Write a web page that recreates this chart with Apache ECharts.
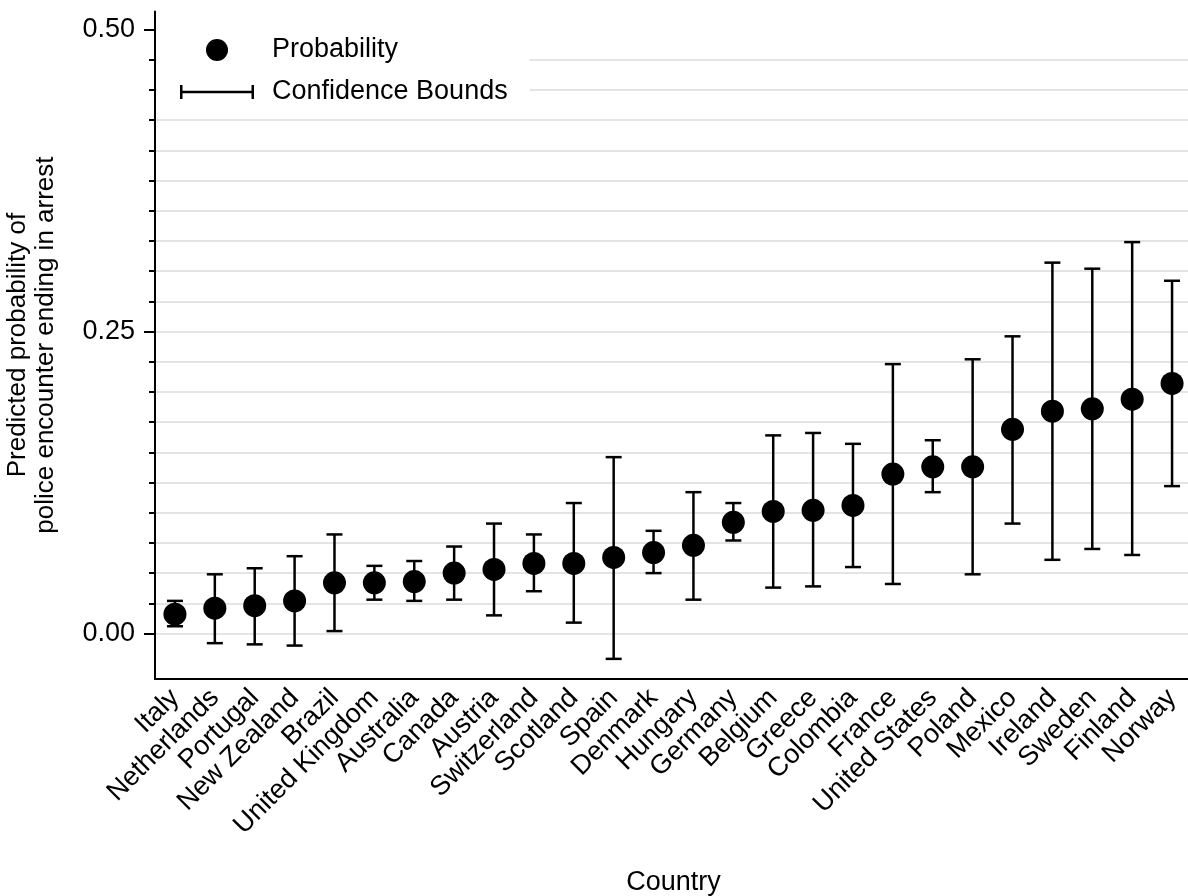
<!DOCTYPE html>
<html>
<head>
<meta charset="utf-8">
<title>Predicted probability of arrest by country</title>
<script src="https://cdn.jsdelivr.net/npm/echarts@6.0.0/dist/echarts.min.js"></script>
<style>
  html, body { margin: 0; padding: 0; background: #fff; }
  #chart { width: 1188px; height: 896px; }
</style>
</head>
<body>
<div id="chart"></div>
<script>
// data
var countries = ['Italy', 'Netherlands', 'Portugal', 'New Zealand', 'Brazil', 'United Kingdom',
  'Australia', 'Canada', 'Austria', 'Switzerland', 'Scotland', 'Spain', 'Denmark', 'Hungary',
  'Germany', 'Belgium', 'Greece', 'Colombia', 'France', 'United States', 'Poland', 'Mexico',
  'Ireland', 'Sweden', 'Finland', 'Norway'];
var probability = [0.016, 0.021, 0.023, 0.027, 0.042, 0.042, 0.043, 0.050, 0.053, 0.058, 0.058,
  0.063, 0.067, 0.073, 0.092, 0.101, 0.102, 0.106, 0.132, 0.138, 0.138, 0.169, 0.184, 0.186,
  0.194, 0.207];
var upperBound = [0.027, 0.049, 0.054, 0.064, 0.082, 0.056, 0.060, 0.072, 0.091, 0.082, 0.108,
  0.146, 0.085, 0.117, 0.108, 0.164, 0.166, 0.157, 0.223, 0.160, 0.227, 0.246, 0.307, 0.302,
  0.324, 0.292];
var lowerBound = [0.006, -0.008, -0.009, -0.010, 0.002, 0.028, 0.027, 0.028, 0.015, 0.035, 0.009,
  -0.021, 0.050, 0.028, 0.077, 0.038, 0.039, 0.055, 0.041, 0.117, 0.049, 0.091, 0.061, 0.070,
  0.065, 0.122];
var yTicks = [0, 0.25, 0.5];

// layout: pixels per unit and pixel row of y = 0
var pxPerUnit = 1208, zeroRow = 633.5, H = 896;
var yMin = -0.0375, yMax = 0.515;
var font = 'Liberation Sans, Arial, sans-serif';
var fs = 27;

var chart = echarts.init(document.getElementById('chart'));

function renderErrorBar(params, api) {
  var i = api.value(0);
  var lo = api.coord([i, api.value(1)]);
  var hi = api.coord([i, api.value(2)]);
  var half = 8;
  var style = { stroke: '#000', lineWidth: 2.5 };
  return {
    type: 'group',
    children: [
      { type: 'line', shape: { x1: lo[0], y1: lo[1], x2: hi[0], y2: hi[1] }, style: style },
      { type: 'line', shape: { x1: hi[0] - half, y1: hi[1], x2: hi[0] + half, y2: hi[1] }, style: style },
      { type: 'line', shape: { x1: lo[0] - half, y1: lo[1], x2: lo[0] + half, y2: lo[1] }, style: style }
    ]
  };
}

var barData = countries.map(function (c, i) { return [i, lowerBound[i], upperBound[i]]; });

var option = {
  animation: false,
  backgroundColor: '#fff',
  color: ['#000'],
  textStyle: { fontFamily: font, color: '#000' },
  grid: [
    // data grid
    { left: 155, right: -4, top: zeroRow - yMax * pxPerUnit, bottom: H - (zeroRow - yMin * pxPerUnit), outerBoundsMode: 'none' },
    // grid for ticks / gridlines from 0 to 0.5
    { left: 155, right: -4, top: zeroRow - 0.5 * pxPerUnit, bottom: H - zeroRow, outerBoundsMode: 'none' }
  ],
  legend: {
    selectedMode: false,
    orient: 'vertical',
    left: 157,
    top: 13,
    padding: [22, 22, 4, 23],
    backgroundColor: '#fff',
    itemWidth: 74,
    itemHeight: 22,
    itemGap: 12,
    textStyle: { fontSize: fs, lineHeight: 30, color: '#000', fontFamily: font, padding: [0, 0, 0, 13] },
    data: [
      { name: 'Probability', icon: 'circle' },
      { name: 'Confidence Bounds', icon: 'path://M0,0H2.5V14H0Z M2.5,5.75H71.5V8.25H2.5Z M71.5,0H74V14H71.5Z' }
    ]
  },
  xAxis: [
    {
      gridIndex: 0,
      type: 'category',
      data: countries,
      boundaryGap: true,
      axisLine: { onZero: false, lineStyle: { color: '#000', width: 2 } },
      axisTick: { alignWithLabel: true, length: 12, lineStyle: { color: '#000', width: 2 } },
      axisLabel: { rotate: 45, interval: 0, fontSize: fs, color: '#000', margin: 15 },
      splitLine: { show: false },
      name: 'Country',
      nameLocation: 'middle',
      nameGap: 190,
      nameTextStyle: { fontSize: fs, color: '#000' }
    },
    { gridIndex: 1, type: 'value', min: 0, max: 1, show: false }
  ],
  yAxis: [
    {
      gridIndex: 0,
      type: 'value',
      z: 10,
      min: yMin,
      max: yMax,
      axisLine: { show: true, lineStyle: { color: '#000', width: 2 } },
      axisTick: { show: false },
      axisLabel: { show: false },
      splitLine: { show: false },
      name: 'Predicted probability of\npolice encounter ending in arrest',
      nameLocation: 'middle',
      nameGap: 95,
      nameTextStyle: { fontSize: 26, lineHeight: 28, color: '#000' }
    },
    {
      gridIndex: 1,
      type: 'value',
      min: yTicks[0],
      max: yTicks[yTicks.length - 1],
      interval: yTicks[1] - yTicks[0],
      axisLine: { show: false },
      axisTick: { show: true, length: 11, lineStyle: { color: '#000', width: 2 } },
      minorTick: { show: true, splitNumber: 10, length: 6, lineStyle: { color: '#000', width: 2 } },
      splitLine: { show: true, showMaxLine: false, lineStyle: { color: '#dcdcdc', width: 1.5 } },
      minorSplitLine: { show: true, lineStyle: { color: '#dcdcdc', width: 1.5 } },
      axisLabel: {
        margin: 20, fontSize: fs, color: '#000',
        formatter: function (v) { return v.toFixed(2); }
      }
    }
  ],
  series: [
    {
      name: 'Confidence Bounds',
      type: 'custom',
      xAxisIndex: 0,
      yAxisIndex: 0,
      renderItem: renderErrorBar,
      itemStyle: { color: '#000' },
      encode: { x: 0, y: [1, 2] },
      data: barData,
      z: 2
    },
    {
      name: 'Probability',
      type: 'scatter',
      xAxisIndex: 0,
      yAxisIndex: 0,
      symbol: 'circle',
      symbolSize: 23,
      itemStyle: { color: '#000', opacity: 1 },
      data: probability,
      z: 3
    }
  ]
};

chart.setOption(option);
</script>
</body>
</html>
